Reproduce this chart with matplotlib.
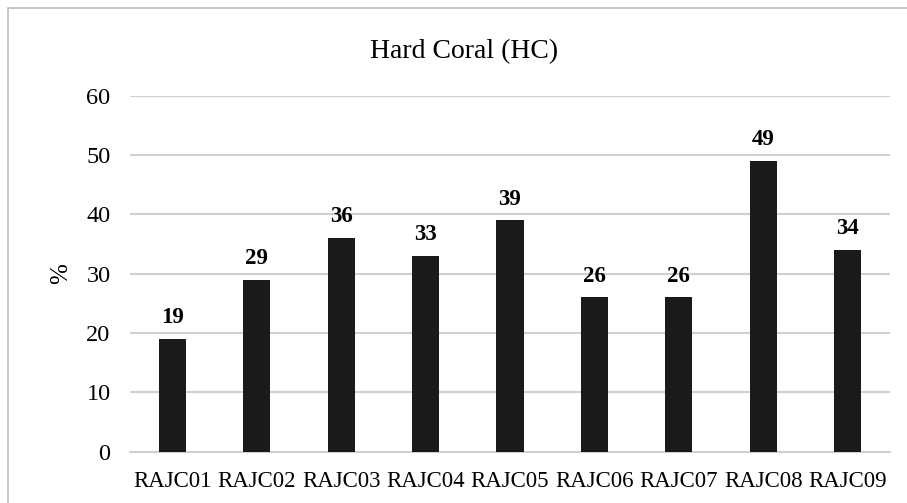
import matplotlib
matplotlib.use("Agg")
import matplotlib.pyplot as plt
from matplotlib.patches import Rectangle

categories = ["RAJC01", "RAJC02", "RAJC03", "RAJC04", "RAJC05", "RAJC06", "RAJC07", "RAJC08", "RAJC09"]
values = [19, 29, 36, 33, 39, 26, 26, 49, 34]
yticks = [0, 10, 20, 30, 40, 50, 60]

plt.rcParams['font.family'] = ['Liberation Serif', 'DejaVu Serif']

fig = plt.figure(figsize=(9.07, 5.03), dpi=100)
fig.patch.set_facecolor('white')
fig.patches.append(Rectangle((8/907, -0.1), 1.2, 1 - 8/503 + 0.1, transform=fig.transFigure,
                             fill=False, edgecolor='#bfbfbf', linewidth=1.2))

ax = fig.add_axes([130/907, 1 - 451.5/503, 760/907, (451.5 - 95.7)/503])
x = range(len(categories))
ax.bar(x, values, width=0.32, color='#1a1a1a', zorder=3)
for xi, v in zip(x, values):
    ax.text(xi, v + 1.8, str(v), ha='center', va='bottom', fontsize=16.5, fontweight='bold', color='#000000')

ax.set_xlim(-0.5, len(categories) - 0.5)
ax.set_ylim(0, 60)
ax.set_yticks(yticks)
ax.set_yticklabels([str(t) for t in yticks], fontsize=17.5)
ax.set_xticks(list(x))
ax.set_xticklabels(categories, fontsize=16.5)
ax.tick_params(axis='x', length=0, pad=14)
ax.tick_params(axis='y', length=0, pad=14)
ax.grid(axis='y', color='#d0d0d0', linewidth=1.5, zorder=0)
for s in ['top', 'right', 'left']:
    ax.spines[s].set_visible(False)
ax.spines['bottom'].set_color('#d0d0d0')
ax.spines['bottom'].set_linewidth(1.5)
ax.set_ylabel('%', fontsize=18, labelpad=10)
fig.text(464/907, 1 - 58/503, 'Hard Coral (HC)', ha='center', va='baseline', fontsize=20)

fig.savefig('out.png', dpi=100)
